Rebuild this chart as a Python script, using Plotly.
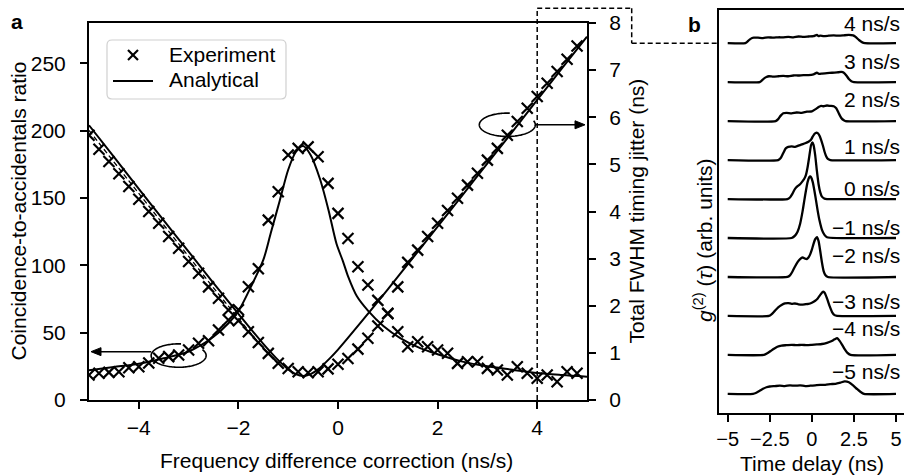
import numpy as np
import plotly.graph_objects as go

# ---------------- panel a: data ----------------
freq = [-5.0, -4.8, -4.6, -4.4, -4.2, -4.0, -3.8, -3.6, -3.4, -3.2,
        -3.0, -2.8, -2.6, -2.4, -2.2, -2.0, -1.8, -1.6, -1.4, -1.2,
        -1.0, -0.8, -0.6, -0.4, -0.2, 0.0, 0.2, 0.4, 0.6, 0.8,
        1.0, 1.2, 1.4, 1.6, 1.8, 2.0, 2.2, 2.4, 2.6, 2.8,
        3.0, 3.2, 3.4, 3.6, 3.8, 4.0, 4.2, 4.4, 4.6, 4.8]

car_exp = [18.6, 19.8, 20.5, 21.0, 24.0, 24.7, 27.5, 31.0, 32.2, 33.4,
           37.1, 42.1, 44.0, 52.0, 59.4, 67.0, 84.1, 97.5, 133.6, 154.6,
           181.9, 186.9, 188.0, 180.6, 160.9, 138.6, 120.0, 99.0, 85.4, 74.0,
           64.0, 50.7, 39.6, 43.3, 39.6, 37.1, 34.7, 27.2, 28.4, 28.4,
           23.5, 22.3, 18.6, 24.7, 19.8, 16.1, 18.6, 13.6, 21.0, 19.8]

jitter_exp = [5.62, 5.32, 5.06, 4.80, 4.53, 4.26, 4.00, 3.75, 3.47, 3.22,
              2.94, 2.69, 2.40, 2.16, 1.91, 1.68, 1.45, 1.22, 0.99, 0.78,
              0.67, 0.60, 0.58, 0.60, 0.66, 0.76, 0.88, 1.08, 1.31, 1.57,
              1.84, 2.40, 2.92, 3.18, 3.47, 3.75, 4.02, 4.28, 4.56, 4.81,
              5.09, 5.34, 5.62, 5.91, 6.19, 6.44, 6.72, 6.97, 7.23, 7.51]

car_fit_x = [-5.0, -4.5, -4.0, -3.5, -3.0, -2.5, -2.2, -2.0, -1.75, -1.5,
             -1.35, -1.17, -1.0, -0.85, -0.7, -0.55, -0.36, -0.19, -0.03, 0.1,
             0.2, 0.38, 0.61, 0.91, 1.25, 1.65, 2.0, 2.5, 3.0, 3.5,
             4.0, 4.5, 5.0]
car_fit_y = [22.0, 24.5, 27.0, 31.0, 36.0, 47.0, 57.0, 66.0, 84.0, 104.0,
             124.0, 148.0, 171.0, 184.0, 188.6, 182.0, 164.0, 141.0, 116.0, 103.0,
             92.0, 77.0, 66.0, 55.0, 46.0, 38.5, 34.0, 28.5, 25.0, 22.5,
             20.0, 18.5, 17.3]

jit_fit_x = [-5.0, -4.5, -4.0, -3.5, -3.0, -2.5, -2.0, -1.5, -1.25, -1.0,
             -0.85, -0.7, -0.55, -0.4, -0.15, 0.0, 0.5, 1.0, 1.5, 2.0,
             2.5, 3.0, 3.5, 4.0, 4.5, 5.0]
jit_fit_y = [5.83, 5.16, 4.48, 3.81, 3.15, 2.48, 1.83, 1.19, 0.90, 0.65,
             0.55, 0.51, 0.55, 0.65, 0.90, 1.07, 1.70, 2.35, 3.01, 3.68,
             4.35, 5.02, 5.69, 6.37, 7.04, 7.71]

jit_alt_x = [-5.0, -4.5, -4.0, -3.5, -3.0, -2.5, -2.0, -1.5, -1.2]
jit_alt_y = [5.72, 5.05, 4.38, 3.71, 3.04, 2.38, 1.73, 1.10, 0.76]

# ---------------- panel b: g2 profiles ----------------
rates = ["−5 ns/s", "−4 ns/s", "−3 ns/s", "−2 ns/s", "−1 ns/s",
         "0 ns/s", "1 ns/s", "2 ns/s", "3 ns/s", "4 ns/s"]

t_m5 = [-5, -3.5, -3.3, -3.1, -2.9, -2.7, -2.5, -2.2, -1.9, -1.6, -1.3, -1.0, -0.7, -0.4,
        -0.1, 0.2, 0.5, 0.8, 1.1, 1.4, 1.7, 1.95, 2.2, 2.45, 2.7, 2.9, 3.1, 5]
g_m5 = [0, 0, 0.03, 0.08, 0.13, 0.17, 0.19, 0.20, 0.21, 0.20, 0.22, 0.21, 0.22, 0.20,
        0.21, 0.22, 0.23, 0.23, 0.25, 0.26, 0.29, 0.32, 0.30, 0.22, 0.12, 0.05, 0, 0]

t_m4 = [-5, -2.85, -2.65, -2.45, -2.25, -2.05, -1.8, -1.5, -1.2, -0.9, -0.6, -0.3, 0.0,
        0.3, 0.6, 0.9, 1.15, 1.35, 1.5, 1.65, 1.8, 1.95, 2.1, 2.3, 5]
g_m4 = [0, 0, 0.04, 0.10, 0.16, 0.21, 0.24, 0.25, 0.26, 0.25, 0.26, 0.25, 0.26,
        0.27, 0.28, 0.31, 0.35, 0.40, 0.43, 0.36, 0.26, 0.15, 0.06, 0, 0]

t_m3 = [-5, -2.55, -2.4, -2.2, -2.0, -1.8, -1.6, -1.4, -1.2, -1.0, -0.8, -0.6, -0.4,
        -0.2, 0.0, 0.2, 0.35, 0.5, 0.65, 0.75, 0.9, 1.05, 1.2, 1.35, 1.5, 5]
g_m3 = [0, 0, 0.04, 0.13, 0.22, 0.28, 0.32, 0.33, 0.31, 0.32, 0.30, 0.29, 0.30,
        0.31, 0.34, 0.39, 0.45, 0.54, 0.62, 0.60, 0.45, 0.26, 0.10, 0.02, 0, 0]

t_m2 = [-5, -1.45, -1.3, -1.15, -1.0, -0.85, -0.7, -0.55, -0.4, -0.3, -0.2, -0.1, 0.0,
        0.1, 0.2, 0.3, 0.4, 0.5, 0.6, 0.7, 0.8, 0.95, 5]
g_m2 = [0, 0, 0.04, 0.14, 0.27, 0.38, 0.46, 0.50, 0.47, 0.46, 0.50, 0.58, 0.70,
        0.85, 0.97, 1.02, 0.92, 0.66, 0.37, 0.15, 0.05, 0, 0]

t_m1 = [-5, -1.2, -1.0, -0.85, -0.7, -0.55, -0.45, -0.35, -0.25, -0.15, -0.1, -0.05,
        0.05, 0.15, 0.25, 0.35, 0.45, 0.6, 0.75, 0.9, 5]
g_m1 = [0, 0, 0.06, 0.16, 0.36, 0.69, 0.96, 1.22, 1.44, 1.56, 1.58, 1.56,
        1.44, 1.22, 0.96, 0.69, 0.46, 0.21, 0.08, 0.02, 0]

t_0 = [-5, -1.45, -1.3, -1.15, -1.0, -0.85, -0.7, -0.55, -0.45, -0.35, -0.25, -0.15,
       -0.05, 0.03, 0.1, 0.2, 0.3, 0.4, 0.5, 0.6, 0.75, 0.9, 5]
g_0 = [0, 0, 0.04, 0.14, 0.26, 0.33, 0.38, 0.46, 0.52, 0.62, 0.82, 1.10,
       1.38, 1.45, 1.39, 1.12, 0.72, 0.38, 0.17, 0.06, 0.01, 0, 0]

t_p1 = [-5, -2.0, -1.85, -1.7, -1.55, -1.4, -1.2, -1.0, -0.8, -0.6, -0.4, -0.2, -0.05,
        0.05, 0.15, 0.25, 0.35, 0.45, 0.55, 0.65, 0.75, 0.85, 0.95, 1.1, 5]
g_p1 = [0, 0, 0.05, 0.18, 0.30, 0.34, 0.35, 0.34, 0.37, 0.40, 0.43, 0.47, 0.52,
        0.60, 0.67, 0.70, 0.69, 0.63, 0.52, 0.38, 0.22, 0.10, 0.03, 0, 0]

t_p2 = [-5, -2.15, -2.0, -1.85, -1.7, -1.5, -1.2, -0.9, -0.6, -0.3, 0.0, 0.2, 0.4,
        0.55, 0.7, 0.9, 1.1, 1.3, 1.45, 1.6, 1.75, 1.9, 2.0, 5]
g_p2 = [0, 0, 0.05, 0.14, 0.20, 0.21, 0.20, 0.22, 0.21, 0.24, 0.25, 0.30, 0.36,
        0.39, 0.38, 0.40, 0.39, 0.38, 0.33, 0.20, 0.08, 0.02, 0, 0]

t_p3 = [-5, -3.1, -3.0, -2.85, -2.7, -2.55, -2.3, -2.0, -1.7, -1.4, -1.1, -0.8, -0.5,
        -0.2, 0.1, 0.3, 0.45, 0.6, 0.9, 1.2, 1.5, 1.75, 1.9, 2.05, 2.2, 2.35, 2.5, 5]
g_p3 = [0, 0, 0.03, 0.09, 0.13, 0.15, 0.14, 0.15, 0.16, 0.15, 0.17, 0.17, 0.18,
        0.18, 0.20, 0.24, 0.21, 0.22, 0.23, 0.24, 0.25, 0.26, 0.24, 0.17, 0.08, 0.02, 0, 0]

t_p4 = [-5, -3.95, -3.85, -3.7, -3.55, -3.45, -3.2, -2.9, -2.6, -2.3, -2.0, -1.7, -1.4,
        -1.1, -0.8, -0.5, -0.2, 0.1, 0.3, 0.4, 0.5, 0.7, 1.0, 1.3, 1.6, 1.9, 2.2, 2.45,
        2.6, 2.8, 3.0, 3.15, 5]
g_p4 = [0, 0, 0.03, 0.09, 0.13, 0.14, 0.14, 0.13, 0.15, 0.14, 0.15, 0.15, 0.16,
        0.15, 0.17, 0.16, 0.17, 0.18, 0.21, 0.18, 0.19, 0.18, 0.19, 0.20, 0.19, 0.20, 0.21, 0.20,
        0.16, 0.08, 0.02, 0, 0]

profiles = [(t_m5, g_m5), (t_m4, g_m4), (t_m3, g_m3), (t_m2, g_m2), (t_m1, g_m1),
            (t_0, g_0), (t_p1, g_p1), (t_p2, g_p2), (t_p3, g_p3), (t_p4, g_p4)]

# height of each rate label above its trace baseline (in trace-spacing units)
label_lift = [0.57, 0.68, 0.37, 0.56, 0.26, 0.26, 0.34, 0.56, 0.54, 0.51]

legend_labels = ["Experiment", "Analytical"]

# ---------------- layout geometry ----------------
W, H = 905, 475
FONT = "Liberation Sans, Arial, Helvetica, sans-serif"
FS = 21


def px(v):
    return v / W


def py(v):
    return 1 - v / H


A_L, A_R, A_T, A_B = 89, 587, 23, 400
B_L, B_R, B_T, B_B = 719.3, 904.4, 10, 413
XA_RANGE = [-5, 5]
XB_RANGE = [-5.5, 5.5]
YB_RANGE = [-0.49, 9.85]


def xa_px(v):
    return A_L + (v - XA_RANGE[0]) / (XA_RANGE[1] - XA_RANGE[0]) * (A_R - A_L)


def car_px(v):
    return A_B - v / 280 * (A_B - A_T)


def jit_px(v):
    return A_B - v / 8 * (A_B - A_T)


def yb_px(v):
    return B_B - (v - YB_RANGE[0]) / (YB_RANGE[1] - YB_RANGE[0]) * (B_B - B_T)


fig = go.Figure()

mk = dict(symbol="x-thin", size=11, color="black", line=dict(width=2.2, color="black"))

fig.add_trace(go.Scatter(x=freq, y=car_exp, mode="markers", marker=mk,
                         name=legend_labels[0], xaxis="x", yaxis="y"))
fig.add_trace(go.Scatter(x=freq, y=jitter_exp, mode="markers", marker=mk,
                         xaxis="x", yaxis="y2"))
fig.add_trace(go.Scatter(x=car_fit_x, y=car_fit_y, mode="lines",
                         line=dict(color="black", width=2, shape="spline", smoothing=0.8),
                         name=legend_labels[1], xaxis="x", yaxis="y"))
fig.add_trace(go.Scatter(x=jit_fit_x, y=jit_fit_y, mode="lines",
                         line=dict(color="black", width=2, shape="spline", smoothing=0.8),
                         xaxis="x", yaxis="y2"))
fig.add_trace(go.Scatter(x=jit_alt_x, y=jit_alt_y, mode="lines",
                         line=dict(color="black", width=1.3, dash="5px,3px"),
                         xaxis="x", yaxis="y2"))

for i, (tt, gg) in enumerate(profiles):
    fig.add_trace(go.Scatter(x=tt, y=[g + i for g in gg], mode="lines",
                             line=dict(color="black", width=2.3, shape="spline", smoothing=0.5),
                             xaxis="x2", yaxis="y3", hoverinfo="skip"))

shapes = []
annotations = []


def ellipse_path(cx, cy, rx, ry, gap0, gap1):
    ang = np.radians(np.linspace(gap1, gap0 + 360, 120))
    xs = px(cx + rx * np.cos(ang))
    ys = py(cy - ry * np.sin(ang))
    return "M " + " L ".join(f"{a:.5f},{b:.5f}" for a, b in zip(xs, ys))


def arrow(x_tail, x_tip, y, head=10, half=4):
    """Horizontal arrow drawn as a line plus a filled triangular head."""
    d = 1 if x_tip > x_tail else -1
    base = x_tip - d * head
    shapes.append(dict(type="line", xref="paper", yref="paper",
                       x0=px(x_tail), y0=py(y), x1=px(base), y1=py(y),
                       line=dict(color="black", width=1.5)))
    tri = (f"M {px(x_tip)},{py(y)} L {px(base)},{py(y - half)} "
           f"L {px(base)},{py(y + half)} Z")
    shapes.append(dict(type="path", xref="paper", yref="paper", path=tri,
                       fillcolor="black", line=dict(color="black", width=1)))


def text(x, y, s, size=FS, angle=0, xanchor="center", yanchor="middle"):
    annotations.append(dict(xref="paper", yref="paper", x=px(x), y=py(y), text=s,
                            showarrow=False, textangle=angle, xanchor=xanchor,
                            yanchor=yanchor, font=dict(family=FONT, size=size, color="black")))


# legend box (rounded, light border) with a cross and a line as keys
lx0, lx1, ly0, ly1, rr = 107, 286, 40, 99, 5
box = (f"M {px(lx0 + rr)},{py(ly0)} L {px(lx1 - rr)},{py(ly0)} "
       f"Q {px(lx1)},{py(ly0)} {px(lx1)},{py(ly0 + rr)} L {px(lx1)},{py(ly1 - rr)} "
       f"Q {px(lx1)},{py(ly1)} {px(lx1 - rr)},{py(ly1)} L {px(lx0 + rr)},{py(ly1)} "
       f"Q {px(lx0)},{py(ly1)} {px(lx0)},{py(ly1 - rr)} L {px(lx0)},{py(ly0 + rr)} "
       f"Q {px(lx0)},{py(ly0)} {px(lx0 + rr)},{py(ly0)} Z")
shapes.append(dict(type="path", xref="paper", yref="paper", path=box, layer="above",
                   fillcolor="rgba(255,255,255,0.85)", line=dict(color="#d0d0d0", width=1.2)))
kx, ky, ks = 133, 55, 5
shapes.append(dict(type="line", xref="paper", yref="paper", x0=px(kx - ks), y0=py(ky - ks),
                   x1=px(kx + ks), y1=py(ky + ks), line=dict(color="black", width=2.2)))
shapes.append(dict(type="line", xref="paper", yref="paper", x0=px(kx - ks), y0=py(ky + ks),
                   x1=px(kx + ks), y1=py(ky - ks), line=dict(color="black", width=2.2)))
shapes.append(dict(type="line", xref="paper", yref="paper", x0=px(113), y0=py(81),
                   x1=px(153), y1=py(81), line=dict(color="black", width=2)))
text(167, 54, legend_labels[0], xanchor="left")
text(167, 80, legend_labels[1], xanchor="left")

# ellipse + arrow marking the left (CAR) axis
cxl, cyl = xa_px(-3.2), car_px(33)
shapes.append(dict(type="path", xref="paper", yref="paper",
                   path=ellipse_path(cxl, cyl, 27.5, 11.7, 30, 85),
                   line=dict(color="black", width=1.6)))
arrow(cxl - 27.5, A_L + 2, car_px(35.9))
# ellipse + arrow marking the right (jitter) axis
cxr, cyr = xa_px(3.4), jit_px(5.84)
shapes.append(dict(type="path", xref="paper", yref="paper",
                   path=ellipse_path(cxr, cyr, 28, 11.7, 20, 85),
                   line=dict(color="black", width=1.6)))
arrow(cxr + 28, A_R - 2, cyr)

# dashed connector from the 4 ns/s setting to its profile
dash = dict(color="black", width=1.5, dash="5px,3px")
x4 = xa_px(4)
top_y = 8.3
mid_x = 631.7
base4 = yb_px(9)
for (x0, y0, x1, y1) in [(x4, A_B, x4, top_y), (x4, top_y, mid_x, top_y),
                         (mid_x, top_y, mid_x, base4), (mid_x, base4, B_L, base4)]:
    shapes.append(dict(type="line", xref="paper", yref="paper",
                       x0=px(x0), y0=py(y0), x1=px(x1), y1=py(y1), line=dash))

text(17, 21, "<b>a</b>")
text(694, 25, "<b>b</b>")
text(336, 460, "Frequency difference correction (ns/s)")
text(812, 463, "Time delay (ns)")
text(18, 211.5, "Coincidence-to-accidentals ratio", angle=-90)
text(636, 211.5, "Total FWHM timing jitter (ns)", angle=-90)
text(703, 240, "<i>g</i><sup>(2)</sup> (<i>τ</i>) (arb. units)", angle=-90)

for i, lab in enumerate(rates):
    annotations.append(dict(xref="x2", yref="y3", x=5.33, y=i + label_lift[i], text=lab,
                            showarrow=False, xanchor="right", yanchor="middle",
                            font=dict(family=FONT, size=FS, color="black")))

axis_common = dict(showline=True, linewidth=2, linecolor="black", ticks="outside",
                   ticklen=7, tickwidth=2, tickcolor="black", showgrid=False,
                   zeroline=False, automargin=False)
tick_font = dict(family=FONT, size=FS, color="black")

fig.update_layout(
    width=W, height=H,
    autosize=False,
    margin=dict(l=0, r=0, t=0, b=0, pad=0, autoexpand=False),
    paper_bgcolor="white", plot_bgcolor="white",
    font=dict(family=FONT, size=FS, color="black"),
    showlegend=False,
    xaxis=dict(domain=[px(A_L), px(A_R)], range=XA_RANGE, anchor="y",
               tickvals=[-4, -2, 0, 2, 4], ticktext=["−4", "−2", "0", "2", "4"],
               mirror=True, ticklabelstandoff=1, tickfont=tick_font, **axis_common),
    yaxis=dict(domain=[py(A_B), py(A_T)], range=[0, 280], anchor="x",
               tickvals=[0, 50, 100, 150, 200, 250], ticklabelstandoff=10,
               tickfont=tick_font, **axis_common),
    yaxis2=dict(domain=[py(A_B), py(A_T)], range=[0, 8], anchor="x", overlaying="y",
                side="right", tickvals=list(range(9)), ticklabelstandoff=9,
                tickfont=tick_font, **axis_common),
    xaxis2=dict(domain=[px(B_L), px(B_R)], range=XB_RANGE, anchor="y3",
                tickvals=[-5, -2.5, 0, 2.5, 5], ticktext=["−5", "−2.5", "0", "2.5", "5"],
                mirror=True, ticklabelstandoff=0,
                tickfont=dict(family=FONT, size=20, color="black"), **axis_common),
    yaxis3=dict(domain=[py(B_B), py(B_T)], range=YB_RANGE, anchor="x2",
                showline=True, linewidth=2, linecolor="black", showticklabels=False,
                ticks="", showgrid=False, zeroline=False, automargin=False),
    shapes=shapes,
    annotations=annotations,
)

fig.write_html("out.html")
